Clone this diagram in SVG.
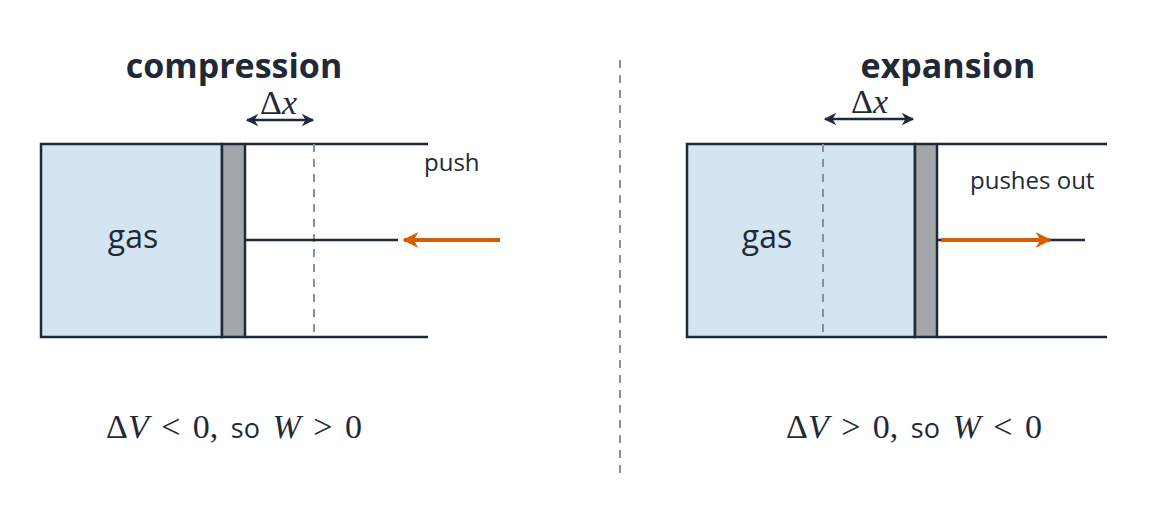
<svg xmlns="http://www.w3.org/2000/svg" width="1174" height="520" viewBox="0 0 1174 520">
<style>
.ln{stroke:#1f2937;stroke-width:2.5;fill:none}
.gas{fill:#d2e5f0;stroke:#1f2937;stroke-width:2.5}
.pis{fill:#a3a6aa;stroke:#1f2937;stroke-width:2.5}
.dash{stroke:#8c8f94;stroke-width:2;stroke-dasharray:8 7;fill:none}
.or{stroke:#d55e00;stroke-width:4;fill:none}
.t{font-family:"Open Sans","DejaVu Sans",sans-serif;fill:#1f2937}
.m{font-family:"Liberation Serif",serif;fill:#1f2937;font-size:34px;word-spacing:4px}
</style>
<defs>
<marker id="ah" viewBox="0 0 10 10" refX="9" refY="5" markerWidth="5" markerHeight="5" orient="auto-start-reverse"><path d="M0,0 L10,5 L0,10 L3,5 Z" fill="#1f2937"/></marker>
<marker id="ao" viewBox="0 0 10 10" refX="9" refY="5" markerWidth="4" markerHeight="4" orient="auto"><path d="M0,0 L10,5 L0,10 L3,5 Z" fill="#d55e00"/></marker>
</defs>
<line class="dash" x1="620" y1="60" x2="620" y2="480"/>
<g id="compression">
<text class="t" x="234" y="78" font-size="34" font-weight="bold" text-anchor="middle">compression</text>
<rect class="gas" x="41" y="144" width="181" height="193"/>
<line class="ln" x1="245" y1="144" x2="428" y2="144"/>
<line class="ln" x1="245" y1="337" x2="428" y2="337"/>
<line class="dash" x1="314" y1="144" x2="314" y2="337"/>
<line class="ln" x1="245" y1="240" x2="398" y2="240"/>
<rect class="pis" x="222" y="144" width="23" height="193"/>
<text class="t" x="424" y="171" font-size="24">push</text>
<text class="m" x="260" y="114" font-size="22">Δ<tspan font-style="italic">x</tspan></text>
<text class="t" x="133" y="248" font-size="32" text-anchor="middle">gas</text>
<text class="m" x="234" y="438" text-anchor="middle">Δ<tspan font-style="italic">V</tspan> &lt; 0, <tspan class="t" font-size="27">so</tspan> <tspan font-style="italic">W</tspan> &gt; 0</text>
</g>
<g id="expansion">
<text class="t" x="948" y="78" font-size="34" font-weight="bold" text-anchor="middle">expansion</text>
<rect class="gas" x="687" y="144" width="228" height="193"/>
<line class="ln" x1="937" y1="144" x2="1107" y2="144"/>
<line class="ln" x1="937" y1="337" x2="1107" y2="337"/>
<line class="dash" x1="823" y1="144" x2="823" y2="337"/>
<line class="ln" x1="937" y1="240" x2="1085" y2="240"/>
<rect class="pis" x="915" y="144" width="22" height="193"/>
<text class="t" x="970" y="189" font-size="24">pushes out</text>
<text class="m" x="851" y="113" font-size="22">Δ<tspan font-style="italic">x</tspan></text>
<text class="t" x="767" y="248" font-size="32" text-anchor="middle">gas</text>
<text class="m" x="914" y="438" text-anchor="middle">Δ<tspan font-style="italic">V</tspan> &gt; 0, <tspan class="t" font-size="27">so</tspan> <tspan font-style="italic">W</tspan> &lt; 0</text>
</g>
<g id="connectors">
<line class="ln" x1="247" y1="120" x2="313" y2="120" marker-start="url(#ah)" marker-end="url(#ah)"/>
<line class="ln" x1="825" y1="119" x2="913" y2="119" marker-start="url(#ah)" marker-end="url(#ah)"/>
<line class="or" x1="500" y1="240" x2="404" y2="240" marker-end="url(#ao)"/>
<line class="or" x1="941" y1="240" x2="1050" y2="240" marker-end="url(#ao)"/>
</g>
</svg>
